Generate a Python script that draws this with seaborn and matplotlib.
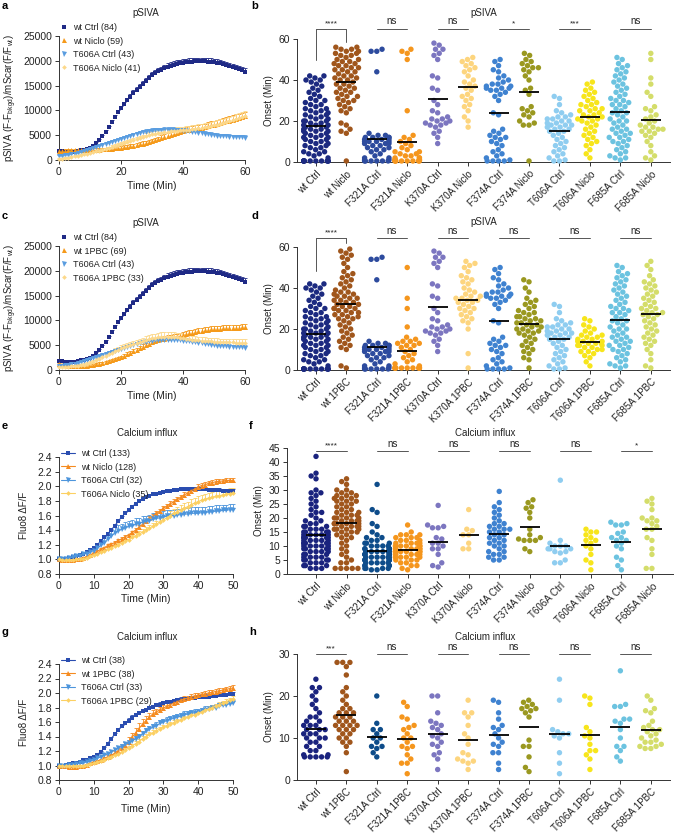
import numpy as np
import pandas as pd
import matplotlib
matplotlib.use("Agg")
import matplotlib.pyplot as plt
from matplotlib.lines import Line2D
import seaborn as sns

sns.set_style("ticks")
plt.rcParams['font.family'] = ['Liberation Sans', 'DejaVu Sans']
plt.rcParams['mathtext.fontset'] = 'custom'
plt.rcParams['mathtext.rm'] = 'Liberation Sans'
plt.rcParams['mathtext.it'] = 'Liberation Sans'
TXT = '#222222'

# ---------------- time-course data ----------------
t60 = list(range(0, 61))
t50 = list(range(0, 51))

# pSIVA values in thousands
a_wt_ctrl = [1.8,1.75,1.7,1.65,1.65,1.7,1.8,1.95,2.1,2.3,
             2.5,2.9,3.4,4.0,4.8,5.6,6.6,7.7,8.7,9.6,
             10.4,11.2,12.0,12.8,13.5,14.1,14.8,15.4,16.0,16.6,
             17.1,17.5,17.9,18.2,18.5,18.8,19.0,19.2,19.4,19.5,
             19.6,19.7,19.8,19.85,19.9,19.9,19.9,19.9,19.85,19.8,
             19.7,19.6,19.5,19.3,19.1,18.9,18.7,18.5,18.3,18.1,17.8]
a_wt_ctrl_sem = [0.15,0.15,0.15,0.15,0.15,0.15,0.15,0.2,0.2,0.2,
                 0.2,0.25,0.25,0.3,0.3,0.35,0.35,0.4,0.4,0.45,
                 0.45,0.5,0.5,0.5,0.55,0.55,0.55,0.6,0.6,0.6,
                 0.6,0.65,0.65,0.65,0.65,0.7,0.7,0.7,0.7,0.7,
                 0.7,0.7,0.7,0.75,0.75,0.75,0.75,0.75,0.75,0.75,
                 0.75,0.75,0.75,0.75,0.75,0.75,0.75,0.75,0.75,0.75,0.75]
a_wt_niclo = [1.8,1.85,1.9,1.95,2.0,2.0,2.0,2.0,2.0,2.0,
              2.0,2.05,2.1,2.1,2.15,2.2,2.25,2.3,2.35,2.4,
              2.5,2.6,2.7,2.8,2.9,3.0,3.15,3.3,3.45,3.6,
              3.8,4.0,4.2,4.4,4.6,4.8,5.0,5.2,5.4,5.6,
              5.8,6.0,6.1,6.2,6.3,6.4,6.5,6.6,6.8,7.0,
              7.1,7.3,7.4,7.6,7.8,7.9,8.1,8.3,8.4,8.6,8.8]
a_wt_niclo_sem = [0.3,0.3,0.3,0.3,0.3,0.3,0.3,0.3,0.3,0.3,
                  0.3,0.3,0.3,0.3,0.3,0.3,0.35,0.35,0.35,0.35,
                  0.35,0.4,0.4,0.4,0.4,0.45,0.45,0.45,0.45,0.5,
                  0.5,0.5,0.5,0.55,0.55,0.55,0.6,0.6,0.6,0.65,
                  0.65,0.65,0.7,0.7,0.7,0.75,0.75,0.75,0.8,0.8,
                  0.8,0.8,0.85,0.85,0.85,0.9,0.9,0.9,0.9,0.9,0.9]
a_t606_ctrl = [0.9,0.9,1.0,1.1,1.2,1.3,1.45,1.65,1.85,2.05,
               2.3,2.45,2.6,2.8,3.0,3.2,3.4,3.6,3.8,4.0,
               4.2,4.4,4.6,4.8,5.0,5.2,5.4,5.6,5.7,5.8,
               5.9,6.0,6.0,6.05,6.1,6.1,6.1,6.1,6.0,6.0,
               5.9,5.9,5.8,5.7,5.6,5.5,5.4,5.3,5.2,5.1,
               5.0,4.9,4.85,4.8,4.75,4.7,4.65,4.6,4.6,4.55,4.5]
a_t606_ctrl_sem = [0.2,0.2,0.2,0.2,0.2,0.2,0.2,0.2,0.25,0.25,
                   0.25,0.25,0.3,0.3,0.3,0.3,0.35,0.35,0.35,0.35,
                   0.4,0.4,0.4,0.4,0.4,0.45,0.45,0.45,0.45,0.45,
                   0.5,0.5,0.5,0.5,0.5,0.5,0.5,0.5,0.5,0.5,
                   0.5,0.5,0.5,0.5,0.5,0.5,0.5,0.5,0.45,0.45,
                   0.45,0.45,0.45,0.45,0.45,0.45,0.45,0.45,0.45,0.45,0.45]
a_t606_niclo = [0.2,0.3,0.4,0.5,0.6,0.75,0.9,1.0,1.15,1.3,
                1.45,1.6,1.75,1.9,2.05,2.2,2.4,2.6,2.8,3.0,
                3.2,3.4,3.6,3.8,4.0,4.2,4.4,4.6,4.8,5.0,
                5.15,5.3,5.4,5.5,5.6,5.7,5.8,5.85,5.9,5.95,
                6.0,6.05,6.1,6.2,6.3,6.4,6.5,6.6,6.7,6.85,
                7.0,7.15,7.3,7.45,7.6,7.8,8.0,8.2,8.4,8.6,8.8]
a_t606_niclo_sem = [0.2,0.2,0.2,0.2,0.2,0.2,0.2,0.2,0.2,0.25,
                    0.25,0.25,0.25,0.3,0.3,0.3,0.3,0.35,0.35,0.35,
                    0.4,0.4,0.4,0.45,0.45,0.5,0.5,0.5,0.55,0.55,
                    0.6,0.6,0.6,0.65,0.65,0.65,0.7,0.7,0.7,0.7,
                    0.75,0.75,0.75,0.8,0.8,0.8,0.8,0.85,0.85,0.85,
                    0.9,0.9,0.9,0.9,0.95,0.95,0.95,1.0,1.0,1.0,1.0]
c_wt_1pbc = [1.2,1.1,1.0,0.9,0.85,0.8,0.8,0.8,0.85,0.9,
             1.0,1.1,1.2,1.3,1.45,1.6,1.8,2.0,2.2,2.4,
             2.6,2.9,3.2,3.5,3.8,4.1,4.4,4.7,5.0,5.3,
             5.6,5.8,6.0,6.2,6.35,6.5,6.6,6.7,6.8,6.9,
             7.0,7.2,7.4,7.5,7.7,7.8,7.9,8.0,8.1,8.2,
             8.25,8.3,8.35,8.4,8.45,8.5,8.5,8.55,8.55,8.6,8.6]
c_wt_1pbc_sem = [0.2,0.2,0.2,0.2,0.2,0.2,0.2,0.2,0.2,0.2,
                 0.2,0.2,0.2,0.25,0.25,0.25,0.25,0.3,0.3,0.3,
                 0.3,0.35,0.35,0.35,0.4,0.4,0.4,0.45,0.45,0.45,
                 0.5,0.5,0.5,0.5,0.5,0.55,0.55,0.55,0.55,0.55,
                 0.6,0.6,0.6,0.6,0.6,0.6,0.6,0.6,0.6,0.6,
                 0.6,0.6,0.6,0.6,0.6,0.6,0.6,0.6,0.6,0.6,0.6]
c_t606_1pbc = [0.7,0.7,0.7,0.7,0.75,0.8,0.9,1.0,1.1,1.3,
               1.5,1.7,2.0,2.3,2.6,2.9,3.2,3.5,3.8,4.1,
               4.4,4.6,4.8,5.0,5.2,5.4,5.6,5.8,6.0,6.2,
               6.4,6.5,6.6,6.7,6.7,6.7,6.7,6.7,6.6,6.5,
               6.4,6.3,6.2,6.1,6.0,5.95,5.9,5.85,5.8,5.75,
               5.7,5.7,5.65,5.6,5.6,5.6,5.55,5.5,5.5,5.5,5.5]
c_t606_1pbc_sem = [0.2,0.2,0.2,0.2,0.2,0.2,0.25,0.25,0.3,0.3,
                   0.35,0.35,0.4,0.4,0.45,0.45,0.5,0.5,0.55,0.55,
                   0.6,0.6,0.65,0.65,0.7,0.7,0.75,0.75,0.8,0.8,
                   0.85,0.85,0.9,0.9,0.9,0.9,0.9,0.9,0.9,0.9,
                   0.85,0.85,0.85,0.8,0.8,0.8,0.8,0.75,0.75,0.75,
                   0.75,0.7,0.7,0.7,0.7,0.7,0.7,0.7,0.7,0.7,0.7]

# Calcium influx (Fluo8 dF/F)
e_wt_ctrl = [1.00,1.00,1.01,1.02,1.03,1.04,1.06,1.08,1.10,1.13,
             1.16,1.20,1.25,1.30,1.35,1.40,1.46,1.52,1.58,1.63,
             1.68,1.72,1.76,1.80,1.83,1.85,1.87,1.89,1.90,1.91,
             1.92,1.93,1.94,1.95,1.95,1.96,1.96,1.96,1.96,1.96,
             1.96,1.96,1.96,1.95,1.95,1.95,1.95,1.94,1.94,1.94,1.94]
e_wt_ctrl_sem = [0.005,0.005,0.005,0.005,0.005,0.008,0.008,0.01,0.01,0.01,
                 0.012,0.012,0.015,0.015,0.015,0.018,0.018,0.02,0.02,0.02,
                 0.02,0.02,0.022,0.022,0.022,0.022,0.022,0.022,0.022,0.022,
                 0.022,0.022,0.022,0.022,0.022,0.022,0.022,0.022,0.022,0.022,
                 0.022,0.022,0.022,0.022,0.022,0.022,0.022,0.022,0.022,0.022,0.022]
e_wt_niclo = [1.00,0.99,0.99,0.99,0.99,1.00,1.01,1.02,1.04,1.06,
              1.09,1.11,1.14,1.16,1.19,1.21,1.23,1.26,1.28,1.31,
              1.33,1.37,1.40,1.44,1.48,1.52,1.56,1.59,1.63,1.66,
              1.70,1.73,1.76,1.79,1.82,1.85,1.88,1.91,1.94,1.96,
              1.99,2.01,2.02,2.04,2.05,2.06,2.07,2.07,2.08,2.08,2.08]
e_wt_niclo_sem = [0.005,0.005,0.005,0.005,0.005,0.008,0.008,0.01,0.01,0.01,
                  0.012,0.012,0.015,0.015,0.015,0.018,0.018,0.02,0.02,0.02,
                  0.022,0.022,0.025,0.025,0.025,0.028,0.028,0.03,0.03,0.03,
                  0.032,0.032,0.035,0.035,0.035,0.035,0.035,0.035,0.035,0.035,
                  0.035,0.035,0.035,0.035,0.035,0.035,0.035,0.035,0.035,0.035,0.035]
e_t606_ctrl = [1.00,1.00,1.01,1.02,1.03,1.04,1.05,1.07,1.08,1.10,
               1.12,1.15,1.19,1.23,1.28,1.32,1.36,1.39,1.41,1.43,
               1.45,1.46,1.48,1.49,1.51,1.52,1.53,1.55,1.56,1.57,
               1.58,1.59,1.60,1.60,1.61,1.61,1.62,1.62,1.63,1.63,
               1.63,1.64,1.64,1.65,1.65,1.66,1.66,1.67,1.67,1.68,1.68]
e_t606_ctrl_sem = [0.01,0.01,0.01,0.01,0.01,0.015,0.015,0.02,0.02,0.025,
                   0.03,0.04,0.05,0.06,0.07,0.08,0.08,0.08,0.08,0.08,
                   0.08,0.08,0.08,0.08,0.08,0.08,0.08,0.08,0.08,0.08,
                   0.08,0.08,0.08,0.08,0.08,0.08,0.08,0.08,0.08,0.08,
                   0.08,0.08,0.08,0.08,0.08,0.08,0.08,0.08,0.08,0.08,0.08]
e_t606_niclo = [1.00,0.99,0.99,0.99,0.99,1.00,1.00,1.01,1.02,1.04,
                1.06,1.08,1.10,1.12,1.14,1.16,1.18,1.20,1.22,1.25,
                1.27,1.30,1.32,1.35,1.37,1.40,1.43,1.45,1.48,1.51,
                1.54,1.57,1.60,1.63,1.65,1.68,1.70,1.72,1.75,1.77,
                1.79,1.81,1.82,1.84,1.85,1.86,1.87,1.88,1.89,1.90,1.91]
e_t606_niclo_sem = [0.005,0.005,0.005,0.005,0.005,0.01,0.01,0.01,0.01,0.015,
                    0.015,0.015,0.02,0.02,0.02,0.025,0.025,0.03,0.03,0.03,
                    0.035,0.035,0.04,0.04,0.04,0.045,0.045,0.05,0.05,0.05,
                    0.055,0.055,0.06,0.06,0.06,0.065,0.065,0.065,0.07,0.07,
                    0.07,0.07,0.07,0.07,0.07,0.07,0.07,0.07,0.07,0.07,0.07]
g_wt_ctrl = [1.00,1.00,1.01,1.02,1.03,1.04,1.05,1.07,1.08,1.10,
             1.12,1.15,1.19,1.24,1.30,1.37,1.43,1.49,1.54,1.58,
             1.62,1.66,1.69,1.72,1.75,1.77,1.79,1.81,1.83,1.84,
             1.86,1.87,1.88,1.89,1.90,1.91,1.92,1.92,1.93,1.93,
             1.94,1.94,1.95,1.95,1.96,1.96,1.97,1.97,1.97,1.98,1.98]
g_wt_ctrl_sem = [0.005,0.005,0.005,0.005,0.005,0.008,0.008,0.01,0.01,0.01,
                 0.012,0.012,0.015,0.015,0.018,0.02,0.022,0.025,0.025,0.028,
                 0.03,0.03,0.03,0.03,0.03,0.03,0.03,0.03,0.03,0.03,
                 0.03,0.03,0.03,0.03,0.03,0.03,0.03,0.03,0.03,0.03,
                 0.03,0.03,0.03,0.03,0.03,0.03,0.03,0.03,0.03,0.03,0.03]
g_wt_1pbc = [1.00,0.99,0.99,0.98,0.98,0.98,0.99,1.00,1.01,1.03,
             1.05,1.06,1.08,1.10,1.12,1.14,1.17,1.20,1.24,1.28,
             1.33,1.39,1.45,1.51,1.57,1.62,1.67,1.71,1.74,1.77,
             1.79,1.82,1.84,1.86,1.88,1.90,1.92,1.93,1.95,1.96,
             1.97,1.98,1.99,2.00,2.01,2.02,2.03,2.04,2.05,2.06,2.07]
g_wt_1pbc_sem = [0.005,0.005,0.005,0.005,0.005,0.008,0.008,0.01,0.01,0.01,
                 0.012,0.012,0.015,0.015,0.02,0.025,0.03,0.035,0.04,0.05,
                 0.06,0.065,0.07,0.07,0.065,0.06,0.055,0.05,0.045,0.04,
                 0.04,0.04,0.035,0.035,0.035,0.035,0.035,0.035,0.035,0.035,
                 0.035,0.035,0.035,0.035,0.035,0.035,0.035,0.035,0.035,0.035,0.035]
g_t606_ctrl = [1.00,1.00,1.00,1.01,1.01,1.02,1.03,1.04,1.05,1.06,
               1.08,1.10,1.12,1.14,1.16,1.19,1.21,1.24,1.26,1.29,
               1.31,1.34,1.37,1.40,1.44,1.47,1.50,1.53,1.55,1.58,
               1.60,1.62,1.64,1.65,1.67,1.68,1.70,1.71,1.72,1.73,
               1.74,1.75,1.77,1.78,1.79,1.80,1.82,1.83,1.84,1.85,1.86]
g_t606_ctrl_sem = [0.005,0.005,0.005,0.005,0.008,0.008,0.01,0.01,0.012,0.012,
                   0.015,0.015,0.018,0.018,0.02,0.02,0.025,0.025,0.03,0.03,
                   0.035,0.035,0.04,0.04,0.04,0.045,0.045,0.045,0.045,0.045,
                   0.045,0.045,0.045,0.045,0.045,0.045,0.045,0.045,0.045,0.045,
                   0.045,0.045,0.045,0.045,0.045,0.045,0.045,0.045,0.045,0.045,0.045]
g_t606_1pbc = [1.00,0.99,0.99,0.99,0.99,0.99,1.00,1.00,1.01,1.02,
               1.03,1.05,1.06,1.08,1.10,1.12,1.14,1.16,1.19,1.21,
               1.24,1.27,1.30,1.33,1.37,1.40,1.43,1.45,1.48,1.50,
               1.53,1.55,1.57,1.59,1.61,1.63,1.65,1.67,1.69,1.70,
               1.72,1.74,1.76,1.78,1.80,1.82,1.84,1.86,1.88,1.90,1.92]
g_t606_1pbc_sem = [0.005,0.005,0.005,0.005,0.005,0.008,0.008,0.01,0.01,0.01,
                   0.012,0.012,0.015,0.015,0.018,0.02,0.022,0.025,0.025,0.028,
                   0.03,0.03,0.032,0.032,0.035,0.035,0.035,0.035,0.035,0.035,
                   0.035,0.035,0.035,0.035,0.035,0.035,0.035,0.035,0.035,0.035,
                   0.035,0.035,0.035,0.035,0.035,0.035,0.035,0.035,0.035,0.035,0.035]

# ---------------- onset (swarm) data ----------------
cats_niclo = ['wt Ctrl', 'wt Niclo', 'F321A Ctrl', 'F321A Niclo', 'K370A Ctrl', 'K370A Niclo',
              'F374A Ctrl', 'F374A Niclo', 'T606A Ctrl', 'T606A Niclo', 'F685A Ctrl', 'F685A Niclo']
cats_1pbc = ['wt Ctrl', 'wt 1PBC', 'F321A Ctrl', 'F321A 1PBC', 'K370A Ctrl', 'K370A 1PBC',
             'F374A Ctrl', 'F374A 1PBC', 'T606A Ctrl', 'T606A 1PBC', 'F685A Ctrl', 'F685A 1PBC']

# pSIVA onset, controls (shared by b and d)
ps_wt_ctrl = [0.5,0.5,0.5,0.5,0.5,0.5,0.5,0.5,0.5,0.5,0.5,0.5,2,3,4,4,5,5,6,7,7,8,8,9,9,10,10,
              11,11,12,12,12,13,13,14,14,15,15,15,16,16,16,17,17,18,18,18,19,19,20,20,20,21,21,22,22,23,23,
              24,24,25,25,26,26,27,28,28,29,30,30,31,32,33,34,35,36,37,38,39,40,41,42,42,40]
ps_f321_ctrl = [55,54,54,44,14,13,13,12,12,12,12,11,11,11,10,10,10,10,9,9,9,8,8,7,7,6,6,5,4,3,2,2,1,1,
                0.5,0.5,0.5,0.5,0.5,0.5]
ps_k370_ctrl = [58,57,55,55,53,52,50,42,41,36,35,30,28,25,24,22,21,21,20,20,19,19,18,18,17,15,14,12,9]
ps_f374_ctrl = [50,49,47,45,44,42,41,40,39,38,38,37,37,36,36,36,35,35,34,33,32,30,24,23,16,15,14,13,12,12,
                11,10,9,8,6,5,4,3,2,1,0.5,0.5,0.5,0.5]
ps_t606_ctrl = [32,31,28,25,24,23,22,22,21,21,20,20,19,19,18,18,18,17,17,16,16,15,15,14,13,12,11,10,9,8,
                7,6,5,4,3,2,1,0.5,0.5]
ps_f685_ctrl = [51,50,48,47,46,45,44,43,42,41,40,39,38,37,36,35,34,33,32,31,30,30,29,28,28,27,26,25,24,24,
                23,22,21,20,20,19,18,17,16,16,15,14,14,13,12,12,11,10,10,9,8,7,6,5,4,3,2,2,1]
# pSIVA onset, Niclo (b)
ps_wt_niclo = [0.5,14,15,16,18,19,24,25,26,27,28,29,30,30,31,32,32,33,34,34,35,36,36,37,38,38,39,40,40,41,
               41,42,42,43,44,44,45,45,46,46,47,47,48,48,49,49,50,50,51,52,52,53,53,54,54,55,55,56,56]
ps_f321_niclo = [55,54,53,50,25,13,12,11,10,9,8,7,6,5,5,4,4,3,3,2,2,2,1,1,1,1,1,1,
                 0.5,0.5,0.5,0.5,0.5,0.5,0.5,0.5]
ps_k370_niclo = [51,50,49,48,47,46,45,44,42,40,39,38,37,36,35,33,32,31,30,28,27,25,22,20,17]
ps_f374_niclo = [53,52,50,49,48,47,46,46,45,44,42,40,36,35,33,27,26,25,24,23,22,20,19,18,18,0.5]
ps_t606_niclo = [39,38,36,35,34,33,32,31,30,29,28,28,27,26,26,25,25,24,23,23,22,22,21,21,20,20,19,18,17,16,
                 15,14,13,12,11,10,9,8,6,4,2]
ps_f685_niclo = [53,50,38,41,34,32,27,26,25,23,22,21,20,19,18,17,17,16,16,15,15,14,13,12,10,8,5,3,2,1]
# pSIVA onset, 1PBC (d)
ps_wt_1pbc = [59,58,57,56,55,54,52,50,48,47,46,45,44,43,42,41,40,39,38,38,37,37,36,36,35,35,
              34,34,33,33,32,32,31,31,30,30,30,29,29,28,28,27,27,26,26,25,25,24,
              23,22,21,20,19,18,17,16,15,14,13,12,11,10,2,1]
ps_f321_1pbc = [50,35,30,21,16,15,14,14,13,13,12,12,11,10,9,8,7,6,5,4,3,2,1,1,1,1,1,1,1,1,1,1,1,1]
ps_k370_1pbc = [53,52,51,50,48,46,45,44,43,42,40,39,38,37,36,36,35,35,34,34,33,33,32,31,30,30,29,28,27,26,
                25,24,23,20,8,1]
ps_f374_1pbc = [44,43,40,38,35,34,33,32,31,30,29,28,28,27,26,26,25,25,24,24,23,23,22,22,21,21,20,20,19,19,
                18,18,17,16,15,14,13,12,11,10,9,8,6,5,1]
ps_t606_1pbc = [25,24,22,21,20,19,18,17,17,16,16,15,15,14,14,14,13,13,13,12,12,12,11,11,10,10,9,9,8,7,6,4,2]
ps_f685_1pbc = [53,51,49,46,44,43,42,41,40,39,38,37,36,35,34,33,32,31,30,30,29,28,28,27,27,26,25,24,23,22,
                21,20,19,18,17,16,15,14,13,12,10,8,5,2,1]

# Calcium onset, Niclo (f)
ca_wt_ctrl = [42,36,35,34,30,29,29,28,27,26,25,24,23,22,22,21,20,19,19,18,18,17,17,17,16,16,16,15,15,15,
              15,14,14,14,14,14,13,13,13,13,13,12,12,12,12,12,11,11,11,11,11,10,10,10,10,10,9,9,9,9,
              8,8,8,8,7,7,7,6,6,6,6,5,5,5,5,4,4,4,3,3,3,2,2,2]
ca_wt_niclo = [34,33,32,30,30,29,29,28,28,28,27,27,27,26,26,26,25,25,24,24,23,23,22,22,22,21,21,21,
               20,20,20,20,19,19,19,19,18,18,18,18,18,17,17,17,17,16,16,16,16,15,15,15,
               14,14,13,13,12,11,10,9,8,7,6,5,4,4,2,2,2,2,2]
ca_f321_ctrl = [32,23,22,18,17,15,14,13,13,12,12,11,11,11,10,10,10,10,9,9,9,9,9,8,8,8,8,8,8,7,
                7,7,7,7,7,6,6,6,6,6,6,5,5,5,5,5,5,4,4,4,4,4,3,3,3,3,2,2,2,2,1.5,1.5]
ca_f321_niclo = [17.5,15,14,14,14,13,13,13,12,12,12,11,11,11,11,10,10,10,10,10,9,9,9,9,9,9,
                 8,8,8,8,8,8,7,7,7,7,7,6,6,6,6,5,5,5,4,4,3,3,2,1.5]
ca_k370_ctrl = [24.5,17.5,17,16.5,16.5,13,12.5,11,11,10,9,9,7,4,3,2.5]
ca_k370_niclo = [23,16,15.5,14,14,11,9,9]
ca_f374_ctrl = [29.5,25.5,24,23,22,21,20,19,18,18,17,17,16,16,16,15,15,14,14,13,13,12,12,11,11,10,10,9,
                8,8,7,7,6,6,5,5]
ca_f374_niclo = [26.5,25.5,24,23.5,22,20,16,14,13,12.5,12,12,12,9,8]
ca_t606_ctrl = [33.5,12,11,10,10,10,9,9,9,8,8,7.5,5,4,4]
ca_t606_niclo = [16,15,15,14,13,12,12,11,10,9,7,5,4,1.5]
ca_f685_ctrl = [18.5,18,17.5,17.5,15,14.5,13,13,12,12,11,10,9,6,5,3,1.5]
ca_f685_niclo = [27,26,25,23,20,20,19,19,18,17,16,16,13,12,9,7,2,2]
# Calcium onset, 1PBC (h)
cb_wt_ctrl = [24,22,22,21,20,19,18,17,16,15,15,14,14,13,13,13,12,12,12,11,11,11,10,10,10,9,9,8,8,7,
              7,6,6,5.5,5.5,5.5,5.5,5.5]
cb_wt_1pbc = [28,28,28,27,25,22,21,20,19,18,17,17,16,16,16,15,15,15,14,14,14,13,13,13,13,12,12,12,11,11,
              10,10,9,9,8,6.5,2]
cb_f321_ctrl = [20,13.5,12,12,11,10,10,9,8,8,7.5,6.5,5.5]
cb_f321_1pbc = [18.5,17.5,15,14.5,13,12.5,12,11,10,10,9,8,8,7.5,6,5,4,4,1.5]
cb_k370_ctrl = [20,20,16,14,13.5,13,12.5,12,11,10.5,10,9,8.5,8,6.5,6,5,2.5]
cb_k370_1pbc = [19,16,16,15,13,11,10,8.5,6.5,6,5,4.5,4.5,4,2.5]
cb_f374_ctrl = [19,18.5,16,14.5,13,12.5,12,11,10,9,8.5,8,6.5,6.5,4,2.5]
cb_f374_1pbc = [19,18.5,18,17.5,17,17,16.5,16,15,9.5,8,8,5.5,3,2]
cb_t606_ctrl = [24,19,12,11.5,11,11,10.5,10,6.5,4,1.5]
cb_t606_1pbc = [20,19.5,18,12.5,11.5,10.5,10,8.5,7,7,6,5,2.5]
cb_f685_ctrl = [26,18,17.5,17.5,14.5,14.5,14,13.5,12,10,8,8,7,5.5,4.5]
cb_f685_1pbc = [20,19,17,16.5,16,14,13,12.5,12,12,11.5,11,10.5,10,9.5,9,9,8.5,8,8,7.5,7.5]

sig_b = ['****', 'ns', 'ns', '*', '***', 'ns']
sig_d = ['****', 'ns', 'ns', 'ns', 'ns', 'ns']
sig_f = ['****', 'ns', 'ns', 'ns', 'ns', '*']
sig_h = ['***', 'ns', 'ns', 'ns', 'ns', 'ns']

# ---------------- styling ----------------
swarm_colors_ps = ['#1c2a80', '#a0561c', '#2d4b9e', '#f5961d', '#7c76c0', '#fdd57e',
                   '#3f82d0', '#9a9820', '#8fcdf0', '#f7e51b', '#6cc3e0', '#d4dd6a']
swarm_colors_ca = ['#1a237e', '#a0561c', '#0e4c8a', '#f5961d', '#7c76c0', '#fdd57e',
                   '#3f82d0', '#9a9820', '#8fcdf0', '#f7e51b', '#6cc3e0', '#d4dd6a']
tc_colors_ps = ['#1f2a86', '#f59a1b', '#5a9de0', '#fcd88a']
tc_colors_ca = ['#2a4db0', '#f58b20', '#4d95dc', '#fcd062']
tc_markers = ['s', '^', 'v', 'D']

W, H = 675.0, 834.0
fig = plt.figure(figsize=(6.75, 8.34), dpi=100)


def box(l, r, top, bottom):
    return [l / W, 1 - bottom / H, (r - l) / W, (bottom - top) / H]


def style_axes(ax, lab=7):
    for s in ['top', 'right']:
        ax.spines[s].set_visible(False)
    for s in ['left', 'bottom']:
        ax.spines[s].set_linewidth(0.7)
        ax.spines[s].set_color('#333333')
    ax.tick_params(length=3, width=0.7, labelsize=lab, pad=2, colors='#333333', labelcolor=TXT)


def marker_size(m):
    return {'s': 3.0, '^': 3.6, 'v': 3.6, 'D': 2.4}[m]


def timecourse(ax, t, means, sems, colors, lines, scale=1.0):
    for k in [3, 2, 1, 0]:
        v = np.array(means[k]) * scale
        e = np.array(sems[k]) * scale
        c = colors[k]
        ax.vlines(t, v, v + e, color=c, lw=0.6, zorder=2 + k * 0.1, clip_on=False)
        ax.plot(t, v + e, ls='none', marker='_', ms=2.6, mew=0.6, color=c, zorder=2 + k * 0.1, clip_on=False)
        ms = marker_size(tc_markers[k])
        if lines:
            sns.lineplot(x=t, y=v, ax=ax, color=c, lw=0.8, marker=tc_markers[k], markersize=ms,
                         markeredgewidth=0, errorbar=None, zorder=3 + k * 0.1, clip_on=False, legend=False)
        else:
            sns.scatterplot(x=t, y=v, ax=ax, color=c, marker=tc_markers[k], s=ms ** 2, linewidth=0,
                            zorder=3 + k * 0.1, clip_on=False, legend=False)
    handles = []
    for k in range(4):
        handles.append(Line2D([0], [0], color=colors[k], marker=tc_markers[k], ms=marker_size(tc_markers[k]),
                              mew=0, ls='-' if lines else 'none', lw=0.8))
    return handles


def swarm(ax, cats, groups, colors, ylim, yticks):
    rows = [(c, v) for c, vals in zip(cats, groups) for v in vals]
    df = pd.DataFrame(rows, columns=['group', 'onset'])
    sns.swarmplot(data=df, x='group', y='onset', hue='group', order=cats, hue_order=cats,
                  palette=dict(zip(cats, colors)), size=3.9, linewidth=0, ax=ax,
                  legend=False, clip_on=False, zorder=3)
    means = df.groupby('group')['onset'].mean()
    for i, c in enumerate(cats):
        ax.plot([i - 0.33, i + 0.33], [means[c], means[c]], color='black', lw=1.3, zorder=5,
                solid_capstyle='butt')
    ax.set_ylim(*ylim)
    ax.set_yticks(yticks)
    ax.set_xlabel('')
    ax.set_ylabel('Onset (Min)', fontsize=7, color=TXT, labelpad=3)
    ax.set_xticks(range(12))
    ax.set_xticklabels(cats, rotation=45, ha='right', rotation_mode='anchor', fontsize=7, color=TXT)


def sig(ax, texts, yline, ytext_ns, ytext_star, bracket=None):
    for k, s in enumerate(texts):
        x0, x1 = 2 * k, 2 * k + 1
        ax.plot([x0, x1], [yline, yline], color='#555555', lw=0.7, clip_on=False)
        if s == 'ns':
            ax.text((x0 + x1) / 2, ytext_ns, s, ha='center', va='center', fontsize=7, color=TXT)
        else:
            ax.text((x0 + x1) / 2, ytext_star, s, ha='center', va='center', fontsize=6, color=TXT)
    if bracket is not None:
        ax.plot([0, 0], [bracket[0], yline], color='#555555', lw=0.7, clip_on=False)
        ax.plot([1, 1], [bracket[1], yline], color='#555555', lw=0.7, clip_on=False)


def tc_legend(handles, labels, x, y, hl):
    fig.legend(handles, labels, loc='upper left', bbox_to_anchor=(x / W, 1 - y / H),
               bbox_transform=fig.transFigure, frameon=False, fontsize=6.5, handlelength=hl,
               handletextpad=0.6, labelspacing=0.5, borderpad=0, borderaxespad=0,
               labelcolor=TXT)


ylab_ps = 'pSIVA (F-F$_{\\mathregular{bkgd}}$)/mScar(F/F$_{\\mathregular{wt}}$)'

# ---------------- panel a ----------------
ax_a = fig.add_axes(box(59, 245, 36, 160))
h = timecourse(ax_a, t60, [a_wt_ctrl, a_wt_niclo, a_t606_ctrl, a_t606_niclo],
               [a_wt_ctrl_sem, a_wt_niclo_sem, a_t606_ctrl_sem, a_t606_niclo_sem],
               tc_colors_ps, False, scale=1000)
ax_a.set_xlim(0, 60); ax_a.set_ylim(0, 25000)
ax_a.set_xticks([0, 20, 40, 60]); ax_a.set_yticks(range(0, 25001, 5000))
style_axes(ax_a, 7.5)
ax_a.set_xlabel('Time (Min)', fontsize=7.5, color=TXT, labelpad=3)
ax_a.set_ylabel(ylab_ps, fontsize=7, color=TXT, labelpad=3)
tc_legend(h, ['wt Ctrl (84)', 'wt Niclo (59)', 'T606A Ctrl (43)', 'T606A Niclo (41)'], 60, 23, 0.8)

# ---------------- panel c ----------------
ax_c = fig.add_axes(box(59, 245, 246, 370))
h = timecourse(ax_c, t60, [a_wt_ctrl, c_wt_1pbc, a_t606_ctrl, c_t606_1pbc],
               [a_wt_ctrl_sem, c_wt_1pbc_sem, a_t606_ctrl_sem, c_t606_1pbc_sem],
               tc_colors_ps, False, scale=1000)
ax_c.set_xlim(0, 60); ax_c.set_ylim(0, 25000)
ax_c.set_xticks([0, 20, 40, 60]); ax_c.set_yticks(range(0, 25001, 5000))
style_axes(ax_c, 7.5)
ax_c.set_xlabel('Time (Min)', fontsize=7.5, color=TXT, labelpad=3)
ax_c.set_ylabel(ylab_ps, fontsize=7, color=TXT, labelpad=3)
tc_legend(h, ['wt Ctrl (84)', 'wt 1PBC (69)', 'T606A Ctrl (43)', 'T606A 1PBC (33)'], 60, 233, 0.8)

# ---------------- panel e ----------------
ax_e = fig.add_axes(box(59, 233, 457, 574))
h = timecourse(ax_e, t50, [e_wt_ctrl, e_wt_niclo, e_t606_ctrl, e_t606_niclo],
               [e_wt_ctrl_sem, e_wt_niclo_sem, e_t606_ctrl_sem, e_t606_niclo_sem],
               tc_colors_ca, True)
ax_e.set_xlim(0, 50); ax_e.set_ylim(0.8, 2.4)
ax_e.set_xticks(range(0, 51, 10)); ax_e.set_yticks(np.arange(0.8, 2.41, 0.2))
ax_e.set_yticklabels(['0.8', '1.0', '1.2', '1.4', '1.6', '1.8', '2.0', '2.2', '2.4'])
style_axes(ax_e, 7.5)
ax_e.set_xlabel('Time (Min)', fontsize=7.5, color=TXT, labelpad=2)
ax_e.set_ylabel('Fluo8 \u0394F/F', fontsize=7, color=TXT, labelpad=6)
tc_legend(h, ['wt Ctrl (133)', 'wt Niclo (128)', 'T606A Ctrl (32)', 'T606A Niclo (35)'], 61, 449, 1.6)

# ---------------- panel g ----------------
ax_g = fig.add_axes(box(59, 233, 664, 780))
h = timecourse(ax_g, t50, [g_wt_ctrl, g_wt_1pbc, g_t606_ctrl, g_t606_1pbc],
               [g_wt_ctrl_sem, g_wt_1pbc_sem, g_t606_ctrl_sem, g_t606_1pbc_sem],
               tc_colors_ca, True)
ax_g.set_xlim(0, 50); ax_g.set_ylim(0.8, 2.4)
ax_g.set_xticks(range(0, 51, 10)); ax_g.set_yticks(np.arange(0.8, 2.41, 0.2))
ax_g.set_yticklabels(['0.8', '1.0', '1.2', '1.4', '1.6', '1.8', '2.0', '2.2', '2.4'])
style_axes(ax_g, 7.5)
ax_g.set_xlabel('Time (Min)', fontsize=7.5, color=TXT, labelpad=5)
ax_g.set_ylabel('Fluo8 \u0394F/F', fontsize=7, color=TXT, labelpad=6)
tc_legend(h, ['wt Ctrl (38)', 'wt 1PBC (38)', 'T606A Ctrl (33)', 'T606A 1PBC (29)'], 61, 656, 1.6)

# ---------------- panel b ----------------
ax_b = fig.add_axes(box(297, 670, 39, 162))
swarm(ax_b, cats_niclo,
      [ps_wt_ctrl, ps_wt_niclo, ps_f321_ctrl, ps_f321_niclo, ps_k370_ctrl, ps_k370_niclo,
       ps_f374_ctrl, ps_f374_niclo, ps_t606_ctrl, ps_t606_niclo, ps_f685_ctrl, ps_f685_niclo],
      swarm_colors_ps, (0, 60), [0, 20, 40, 60])
ax_b.set_xlim(-0.62, 11.63)
style_axes(ax_b, 7.5)
sig(ax_b, sig_b, 65, 68.6, 67.3, bracket=(49.8, 58.7))

# ---------------- panel d ----------------
ax_d = fig.add_axes(box(297, 670, 247, 370))
swarm(ax_d, cats_1pbc,
      [ps_wt_ctrl, ps_wt_1pbc, ps_f321_ctrl, ps_f321_1pbc, ps_k370_ctrl, ps_k370_1pbc,
       ps_f374_ctrl, ps_f374_1pbc, ps_t606_ctrl, ps_t606_1pbc, ps_f685_ctrl, ps_f685_1pbc],
      swarm_colors_ps, (0, 60), [0, 20, 40, 60])
ax_d.set_xlim(-0.62, 11.63)
style_axes(ax_d, 7.5)
sig(ax_d, sig_d, 64.5, 68.0, 66.8, bracket=(48.3, 62.0))

# ---------------- panel f ----------------
ax_f = fig.add_axes(box(287, 673, 448, 574))
swarm(ax_f, cats_niclo,
      [ca_wt_ctrl, ca_wt_niclo, ca_f321_ctrl, ca_f321_niclo, ca_k370_ctrl, ca_k370_niclo,
       ca_f374_ctrl, ca_f374_niclo, ca_t606_ctrl, ca_t606_niclo, ca_f685_ctrl, ca_f685_niclo],
      swarm_colors_ca, (0, 45), list(range(0, 46, 5)))
ax_f.set_xlim(-0.95, 11.69)
style_axes(ax_f, 7.5)
sig(ax_f, sig_f, 43.9, 46.4, 45.7)

# ---------------- panel h ----------------
ax_h = fig.add_axes(box(297, 670, 654, 780))
swarm(ax_h, cats_1pbc,
      [cb_wt_ctrl, cb_wt_1pbc, cb_f321_ctrl, cb_f321_1pbc, cb_k370_ctrl, cb_k370_1pbc,
       cb_f374_ctrl, cb_f374_1pbc, cb_t606_ctrl, cb_t606_1pbc, cb_f685_ctrl, cb_f685_1pbc],
      swarm_colors_ca, (0, 30), [0, 10, 20, 30])
ax_h.set_xlim(-0.62, 11.63)
style_axes(ax_h, 7.5)
sig(ax_h, sig_h, 30, 31.7, 31.2)

# x category labels keep 7 pt
for ax in (ax_b, ax_d, ax_f, ax_h):
    ax.tick_params(axis='x', labelsize=7)

# ---------------- titles and panel letters ----------------
for (x, y, s) in [(146, 13, 'pSIVA'), (484, 13, 'pSIVA'), (146, 223, 'pSIVA'), (484, 222, 'pSIVA'),
                  (147, 433, 'Calcium influx'), (485, 433, 'Calcium influx'),
                  (147, 637, 'Calcium influx'), (485, 637, 'Calcium influx')]:
    fig.text(x / W, 1 - y / H, s, ha='center', va='center', fontsize=7, color=TXT)
for (x, y, s) in [(2, 6, 'a'), (251, 6, 'b'), (2, 216, 'c'), (251, 216, 'd'),
                  (2, 426, 'e'), (249, 426, 'f'), (2, 632, 'g'), (249, 632, 'h')]:
    fig.text(x / W, 1 - y / H, s, ha='left', va='center', fontsize=8, fontweight='bold', color='black')

fig.savefig('out.png', dpi=100)
